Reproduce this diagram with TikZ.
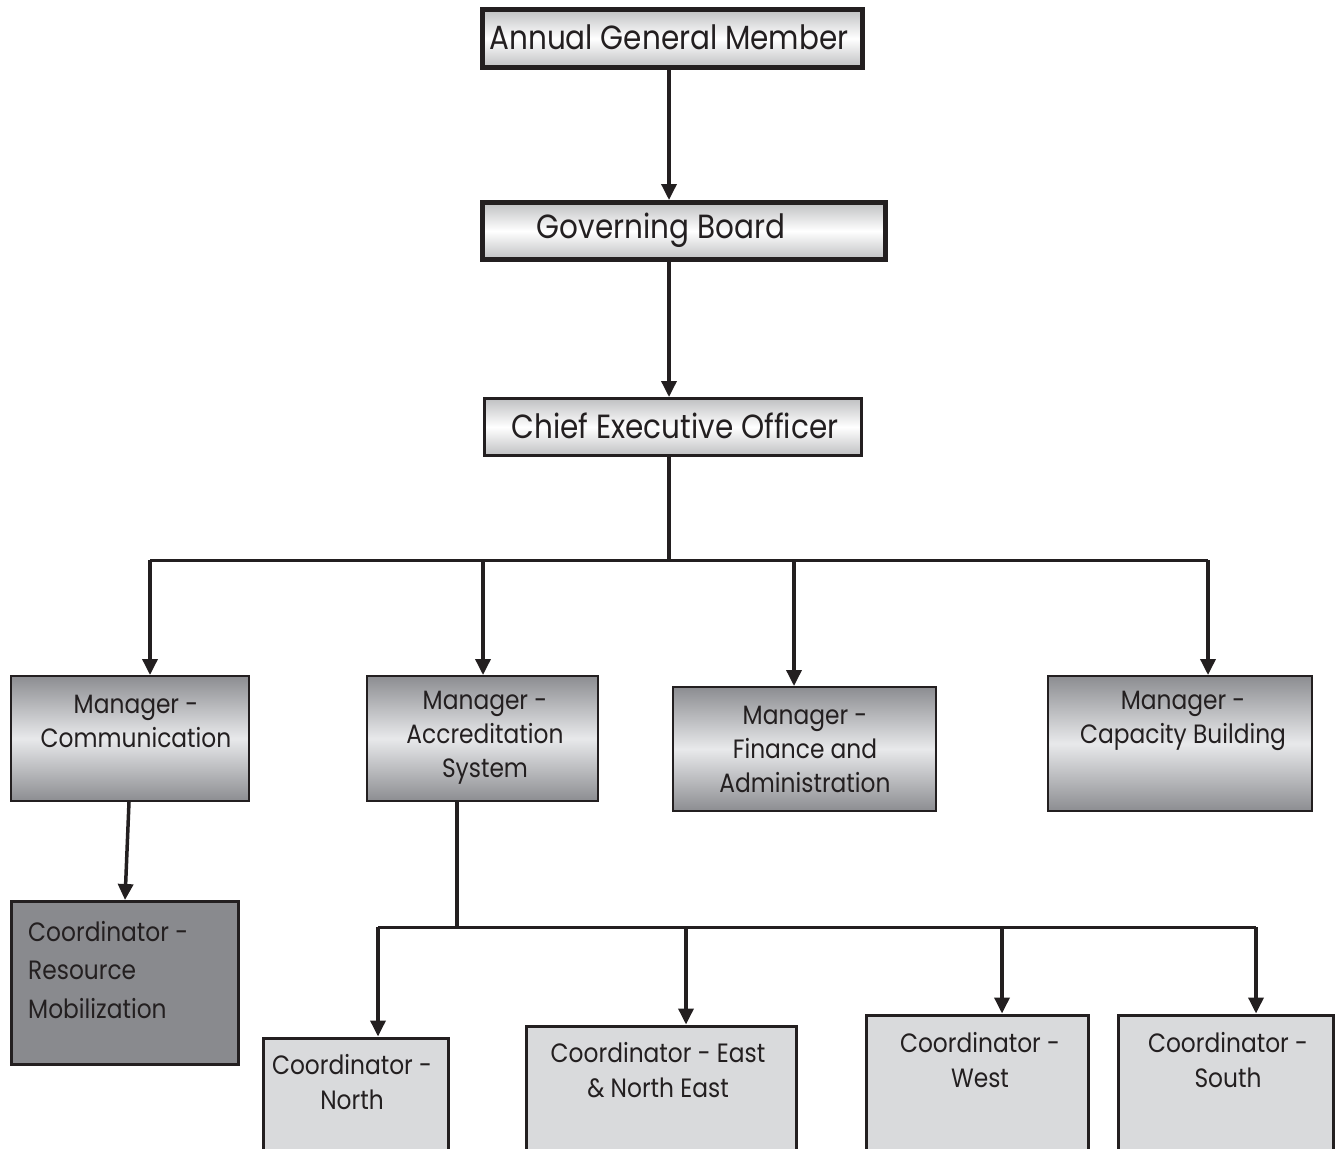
\documentclass[tikz,border=0pt]{standalone}
\usepackage{fontspec}
\setmainfont{Poppins}[FakeStretch=0.88]
\usetikzlibrary{arrows.meta}
\definecolor{ink}{HTML}{231F20}
\definecolor{gdark}{HTML}{8C8D91}
\definecolor{glight}{HTML}{E8E9EB}
\definecolor{tgray}{HTML}{BFC0C2}
\definecolor{coordfill}{HTML}{D9DADC}
\definecolor{rmfill}{HTML}{898A8E}
\tikzset{
  box/.style={draw=ink, rectangle, inner sep=0pt},
  topbox/.style={box, line width=5pt, top color=tgray, bottom color=tgray, middle color=white},
  ceobox/.style={box, line width=3pt, top color=tgray, bottom color=tgray, middle color=white},
  mgrbox/.style={box, line width=2pt, top color=gdark, bottom color=gdark, middle color=glight},
  coordbox/.style={box, line width=3pt, fill=coordfill},
  rmbox/.style={box, line width=3pt, fill=rmfill},
  toptxt/.style={font=\fontsize{33.5}{38}\selectfont, text=ink, align=center, inner sep=0pt},
  mgrtxt/.style={font=\fontsize{26.5}{34}\selectfont, text=ink, align=center, inner sep=0pt},
  cotxt/.style={font=\fontsize{26.5}{35}\selectfont, text=ink, align=center, inner sep=0pt},
  rmtxt/.style={font=\fontsize{26.5}{38.5}\selectfont, text=ink, align=left, inner sep=0pt},
  conn/.style={draw=ink, line width=3.5pt},
  arr/.style={conn, -{Triangle[length=16pt,width=15pt]}},
}
\begin{document}
\begin{tikzpicture}[x=1pt,y=-1pt]
\useasboundingbox (0,0) rectangle (1335,1148);

% top chain
\node[topbox, minimum width=380, minimum height=58] (agm) at (672.5,38.5) {};
\node[toptxt] (agmT) at (669,37) {Annual General Member};
\node[topbox, minimum width=403, minimum height=57] (gb) at (684,231) {};
\node[toptxt] (gbT) at (661,230) {Governing Board};
\node[ceobox, minimum width=377, minimum height=57] (ceo) at (673,427) {};
\node[toptxt] (ceoT) at (675,426) {Chief Executive Officer};

% managers
\node[mgrbox, minimum width=238, minimum height=125] (comm) at (130,738.5) {};
\node[mgrtxt] (commT) at (136,721) {Manager -\\Communication};
\node[mgrbox, minimum width=231, minimum height=125] (accr) at (482.5,738.5) {};
\node[mgrtxt] (accrT) at (485,738) {Manager -\\Accreditation\\System};
\node[mgrbox, minimum width=263, minimum height=124] (fin) at (804.5,749) {};
\node[mgrtxt] (finT) at (805,749) {Manager -\\Finance and\\Administration};
\node[mgrbox, minimum width=264, minimum height=135] (cap) at (1180,743.5) {};
\node[mgrtxt] (capT) at (1183,721) {Manager -\\Capacity Building};

% coordinators
\node[rmbox, minimum width=227, minimum height=163] (rm) at (125,983) {};
\node[rmtxt, anchor=west] (rmT) at (28,970) {Coordinator -\\Resource\\Mobilization};
\node[coordbox, minimum width=185, minimum height=124, anchor=north west] (north) at (261.5,1036.5) {};
\node[cotxt] (northT) at (352,1082) {Coordinator -\\North};
\node[coordbox, minimum width=270, minimum height=136, anchor=north west] (east) at (524.5,1024.5) {};
\node[cotxt] (eastT) at (658,1070) {Coordinator - East\\\& North East};
\node[coordbox, minimum width=222, minimum height=147, anchor=north west] (west) at (864.5,1013.5) {};
\node[cotxt] (westT) at (980,1060) {Coordinator -\\West};
\node[coordbox, minimum width=215, minimum height=147, anchor=north west] (south) at (1116.5,1013.5) {};
\node[cotxt] (southT) at (1228,1060) {Coordinator -\\South};

% trunk
\coordinate (trunk) at (669,0);
\draw[arr] (agm.south -| trunk) -- (gb.north -| trunk);
\draw[arr] (gb.south -| trunk) -- (ceo.north -| trunk);

% manager bus
\coordinate (busA) at (669,560);
\coordinate (d1) at (150,560);
\coordinate (d2) at (483,560);
\coordinate (d3) at (794,560);
\coordinate (d4) at (1208,560);
\draw[conn] (ceo.south -| trunk) -- (busA);
\draw[conn, line width=3pt] (d1) -- (d4);
\draw[arr] (d1) -- (d1 |- comm.north);
\draw[arr] (d2) -- (d2 |- accr.north);
\draw[arr] (d3) -- (d3 |- fin.north);
\draw[arr] (d4) -- (d4 |- cap.north);

% communication -> resource mobilization
\coordinate (cs) at (129,0);
\coordinate (ce) at (125,0);
\draw[arr] (comm.south -| cs) -- (rm.north -| ce);

% coordinator bus
\coordinate (ax) at (457,0);
\coordinate (busB) at (457,927);
\coordinate (e1) at (378,927);
\coordinate (e2) at (686,927);
\coordinate (e3) at (1002,927);
\coordinate (e4) at (1256,927);
\draw[conn] (accr.south -| ax) -- (busB);
\draw[conn, line width=3pt] (e1) -- (e4);
\draw[arr] (e1) -- (e1 |- north.north);
\draw[arr] (e2) -- (e2 |- east.north);
\draw[arr] (e3) -- (e3 |- west.north);
\draw[arr] (e4) -- (e4 |- south.north);
\end{tikzpicture}
\end{document}
